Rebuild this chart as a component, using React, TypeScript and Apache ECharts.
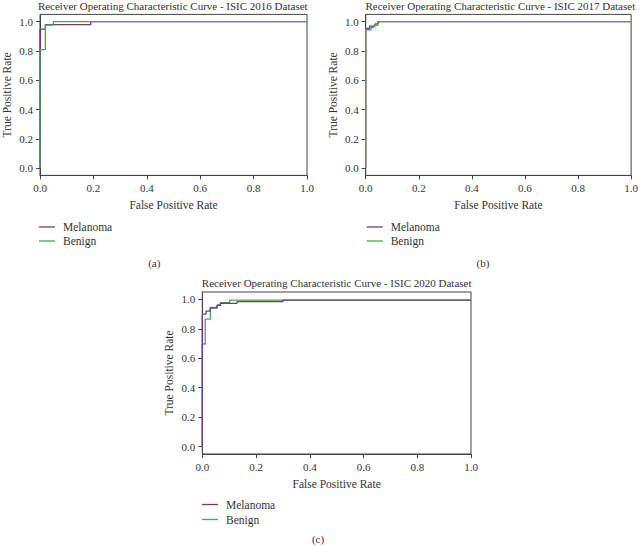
import React, { useEffect, useRef } from "react";
import * as echarts from "echarts";

// ---- data (ROC points: false positive rate / true positive rate) ----
const titles = [
  "Receiver Operating Characteristic Curve - ISIC 2016 Dataset",
  "Receiver Operating Characteristic Curve - ISIC 2017 Dataset",
  "Receiver Operating Characteristic Curve - ISIC 2020 Dataset",
];
const panelLabels = ["(a)", "(b)", "(c)"];
const seriesNames = ["Melanoma", "Benign"];
const xTicks = [0, 0.2, 0.4, 0.6, 0.8, 1.0];
const yTicks = [0, 0.2, 0.4, 0.6, 0.8, 1.0];

// ISIC 2016
const fpr2016Mel = [0, 0, 0.02, 0.02, 0.19, 0.19, 1];
const tpr2016Mel = [0, 0.95, 0.95, 0.98, 0.98, 1, 1];
const fpr2016Ben = [0, 0, 0.02, 0.02, 0.05, 0.05, 1];
const tpr2016Ben = [0, 0.81, 0.81, 0.977, 0.977, 1, 1];

// ISIC 2017
const fpr2017Mel = [0, 0, 0.015, 0.015, 0.035, 0.035, 0.048, 0.048, 1];
const tpr2017Mel = [0, 0.955, 0.955, 0.97, 0.97, 0.985, 0.985, 1, 1];
const fpr2017Ben = [0, 0, 0.02, 0.02, 0.03, 0.03, 0.045, 0.045, 1];
const tpr2017Ben = [0, 0.945, 0.945, 0.96, 0.96, 0.975, 0.975, 1, 1];

// ISIC 2020
const fpr2020Mel = [0, 0, 0.014, 0.014, 0.029, 0.029, 0.055, 0.055, 0.068, 0.068, 0.129, 0.129, 0.3, 0.3, 1];
const tpr2020Mel = [0, 0.9, 0.9, 0.92, 0.92, 0.94, 0.94, 0.96, 0.96, 0.973, 0.973, 0.984, 0.984, 0.995, 0.995];
const fpr2020Ben = [0, 0, 0.011, 0.011, 0.03, 0.03, 0.055, 0.055, 0.067, 0.067, 0.102, 0.102, 1];
const tpr2020Ben = [0, 0.697, 0.697, 0.866, 0.866, 0.946, 0.946, 0.961, 0.961, 0.978, 0.978, 0.995, 0.995];

const panels = [
  { mel: [fpr2016Mel, tpr2016Mel], ben: [fpr2016Ben, tpr2016Ben], melOnTop: false },
  { mel: [fpr2017Mel, tpr2017Mel], ben: [fpr2017Ben, tpr2017Ben], melOnTop: false },
  { mel: [fpr2020Mel, tpr2020Mel], ben: [fpr2020Ben, tpr2020Ben], melOnTop: true },
];

const PURPLE = "#6e3a8e";
const GREEN = "#48a84e";
const TEXT = "#333333";
const AXIS = "#444444";
const FONT = '"Liberation Serif", "Times New Roman", serif';

const grids = [
  { left: 38.5, top: 14.4, width: 268.5, height: 161 },
  { left: 365.7, top: 14.4, width: 269.3, height: 161 },
  { left: 202.3, top: 292, width: 268.7, height: 162 },
];
const titleY = [6, 6, 282.7];
const legendPos = [
  { left: 39, top: 220 },
  { left: 366.7, top: 220 },
  { left: 202, top: 497 },
];
const labelPos = [
  [154.3, 262.7],
  [483, 262.7],
  [318, 539.3],
];

const zip = (xs: number[], ys: number[]) => xs.map((x, i) => [x, ys[i]]);

export default function App() {
  const ref = useRef<HTMLDivElement>(null);
  useEffect(() => {
    if (!ref.current) return;
    const chart = echarts.init(ref.current, null, { renderer: "svg" });

    const xAxis: any[] = [];
    const yAxis: any[] = [];
    const series: any[] = [];
    const graphic: any[] = [];
    const legend: any[] = [];

    grids.forEach((g, i) => {
      xAxis.push({
        type: "value",
        gridIndex: i,
        min: 0,
        max: 1,
        interval: 0.2,
        name: "False Positive Rate",
        nameLocation: "middle",
        nameGap: 24,
        nameTextStyle: { color: TEXT, fontFamily: FONT, fontSize: 11.5 },
        axisLine: { show: true, onZero: false, lineStyle: { color: AXIS, width: 1 } },
        axisTick: { show: true, length: 4, lineStyle: { color: AXIS } },
        axisLabel: {
          color: TEXT,
          fontFamily: FONT,
          fontSize: 11,
          margin: 7,
          formatter: (v: number) => v.toFixed(1),
        },
        splitLine: { show: false },
      });
      yAxis.push({
        type: "value",
        gridIndex: i,
        min: -0.05,
        max: 1.05,
        name: "True Positive Rate",
        nameLocation: "middle",
        nameGap: 27,
        nameTextStyle: { color: TEXT, fontFamily: FONT, fontSize: 11.5 },
        axisLine: { show: true, onZero: false, lineStyle: { color: AXIS, width: 1 } },
        axisTick: { show: true, length: 4, lineStyle: { color: AXIS }, customValues: yTicks },
        axisLabel: {
          color: TEXT,
          fontFamily: FONT,
          fontSize: 11,
          margin: 7,
          customValues: yTicks,
          formatter: (v: number) => v.toFixed(1),
        },
        splitLine: { show: false },
      });
      const p = panels[i];
      const mel = {
        name: seriesNames[0],
        type: "line",
        xAxisIndex: i,
        yAxisIndex: i,
        data: zip(p.mel[0], p.mel[1]),
        showSymbol: false,
        symbol: "none",
        lineStyle: { color: PURPLE, width: 1.3 },
        itemStyle: { color: PURPLE },
        z: p.melOnTop ? 3 : 2,
      };
      const ben = {
        name: seriesNames[1],
        type: "line",
        xAxisIndex: i,
        yAxisIndex: i,
        data: zip(p.ben[0], p.ben[1]),
        showSymbol: false,
        symbol: "none",
        lineStyle: { color: GREEN, width: 1.3 },
        itemStyle: { color: GREEN },
        z: p.melOnTop ? 2 : 3,
      };
      series.push(mel, ben);
      legend.push({
        left: legendPos[i].left,
        top: legendPos[i].top,
        orient: "vertical",
        data: seriesNames,
        icon: "rect",
        itemWidth: 16,
        itemHeight: 1.3,
        itemGap: 0,
        selectedMode: false,
        padding: 0,
        textStyle: {
          color: TEXT,
          fontFamily: FONT,
          fontSize: 11.5,
          lineHeight: i === 2 ? 15 : 14,
          padding: [0, 0, 0, 3],
        },
      });
      graphic.push({
        type: "text",
        x: g.left + g.width / 2,
        y: titleY[i],
        style: {
          text: titles[i],
          fill: TEXT,
          font: `11px ${FONT}`,
          align: "center",
          verticalAlign: "middle",
        },
      });
      graphic.push({
        type: "text",
        x: labelPos[i][0],
        y: labelPos[i][1],
        style: {
          text: panelLabels[i],
          fill: TEXT,
          font: `11px ${FONT}`,
          align: "center",
          verticalAlign: "middle",
        },
      });
    });

    chart.setOption({
      animation: false,
      backgroundColor: "#ffffff",
      grid: grids.map((g) => ({
        ...g,
        show: true,
        borderColor: AXIS,
        borderWidth: 1,
        backgroundColor: "transparent",
      })),
      xAxis,
      yAxis,
      series,
      legend,
      graphic,
    });
    return () => chart.dispose();
  }, []);
  return (
    <div
      ref={ref}
      style={{ position: "fixed", left: 0, top: 0, width: 641, height: 546, background: "#fff" }}
    />
  );
}
